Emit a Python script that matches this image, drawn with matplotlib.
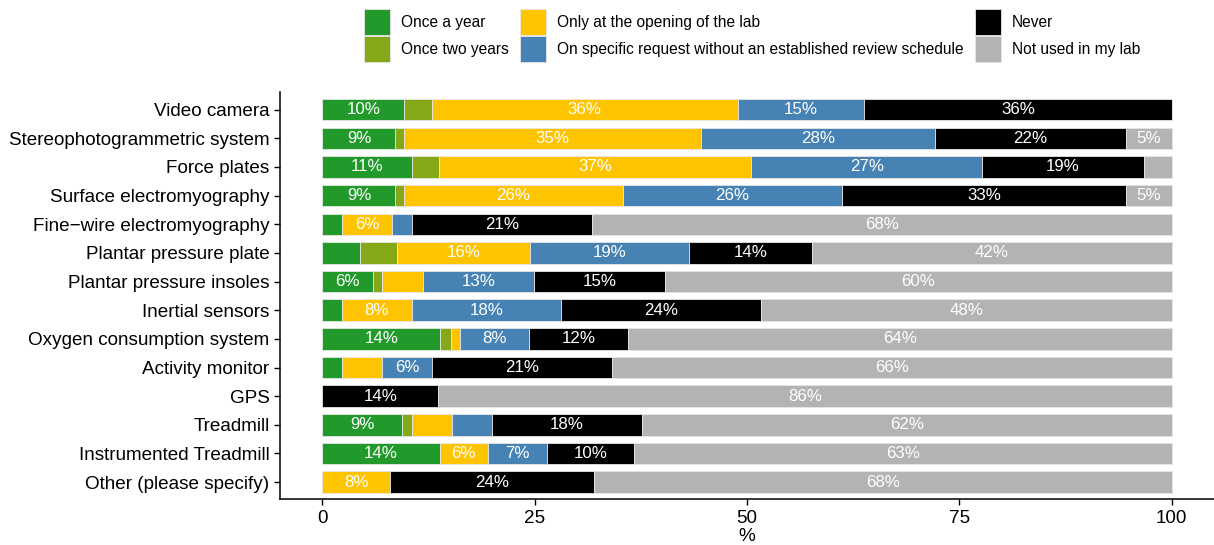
import numpy as np
import matplotlib.pyplot as plt

plt.rcParams["font.family"] = ["Liberation Sans", "DejaVu Sans"]

# --- data ---------------------------------------------------------------------
devices = [
    "Video camera", "Stereophotogrammetric system", "Force plates",
    "Surface electromyography", "Fine\u2212wire electromyography",
    "Plantar pressure plate", "Plantar pressure insoles", "Inertial sensors",
    "Oxygen consumption system", "Activity monitor", "GPS", "Treadmill",
    "Instrumented Treadmill", "Other (please specify)",
]
categories = [
    "Once a year", "Once two years", "Only at the opening of the lab",
    "On specific request without an established review schedule",
    "Never", "Not used in my lab",
]
once_a_year   = [9.6, 8.6, 10.6, 8.6, 2.3, 4.4, 5.95, 2.3, 13.9, 2.3, 0, 9.4, 13.8, 0]
once_two_year = [3.3, 1.0, 3.1, 1.0, 0, 4.4, 1.1, 0, 1.2, 0, 0, 1.2, 0, 0]
opening_only  = [36.0, 35.0, 36.8, 25.8, 5.9, 15.6, 4.8, 8.2, 1.1, 4.7, 0, 4.7, 5.7, 8.0]
on_request    = [14.9, 27.6, 27.2, 25.8, 2.4, 18.8, 13.1, 17.6, 8.1, 5.9, 0, 4.7, 6.9, 0]
never         = [36.2, 22.4, 19.0, 33.4, 21.1, 14.4, 15.4, 23.6, 11.7, 21.2, 13.6, 17.6, 10.3, 24.0]
not_used      = [0, 5.4, 3.3, 5.4, 68.3, 42.4, 59.65, 48.3, 64.0, 65.9, 86.4, 62.4, 63.3, 68.0]
series = [once_a_year, once_two_year, opening_only, on_request, never, not_used]

colors = ["#219A2B", "#84A817", "#FFC400", "#4682B4", "#000000", "#B3B3B3"]

# --- plot ---------------------------------------------------------------------
fig = plt.figure(figsize=(12.14, 5.45), dpi=100)
ax = fig.add_axes([280 / 1214, 1 - 499.3 / 545, 934 / 1214, (499.3 - 92.5) / 545])

y = np.arange(len(devices))[::-1]
left = np.zeros(len(devices))
handles = []
for vals, col, name in zip(series, colors, categories):
    vals = np.asarray(vals, dtype=float)
    bars = ax.barh(y, vals, left=left, height=0.75, color=col,
                   edgecolor="#e6e6e6", linewidth=0.6, label=name)
    handles.append(bars)
    for yi, v, l in zip(y, vals, left):
        if v >= 5:
            ax.text(l + v / 2, yi, f"{int(round(v))}%", ha="center",
                    va="center", color="white", fontsize=12.2)
    left += vals

ax.set_xlim(-5, 105)
ax.set_ylim(-0.6, len(devices) - 0.4)
ax.set_xticks([0, 25, 50, 75, 100])
ax.set_yticks(y)
ax.set_yticklabels(devices)
ax.tick_params(axis="both", labelsize=13.6, colors="black", length=4, width=1)
ax.set_xlabel("%", fontsize=13.6, labelpad=1)

for s in ["top", "right"]:
    ax.spines[s].set_visible(False)
for s in ["left", "bottom"]:
    ax.spines[s].set_linewidth(1.1)

# Legende oben, 3 Spalten mit grossen Farbfeldern
fig.legend(handles=handles, labels=categories, ncol=3, loc="center",
           bbox_to_anchor=(752 / 1214, 1 - 35.5 / 545), frameon=False,
           fontsize=11.2, handlelength=1.67, handleheight=2.19,
           handletextpad=0.7, columnspacing=0.75, labelspacing=0.03,
           borderpad=0)

fig.savefig("out.png", dpi=100)
